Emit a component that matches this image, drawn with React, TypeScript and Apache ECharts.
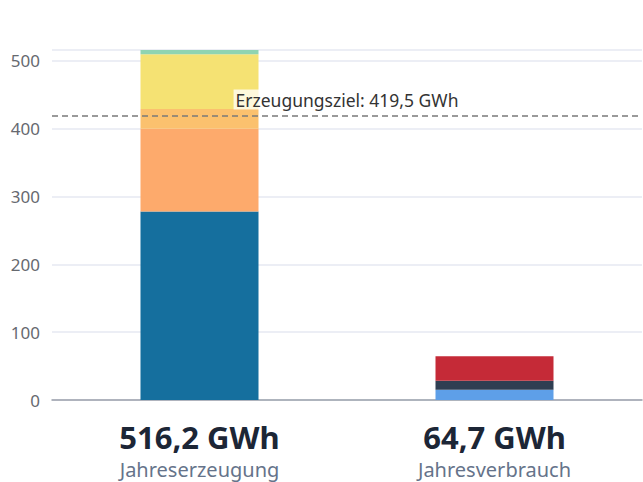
import React, { useEffect, useRef } from "react";
import * as echarts from "echarts";

const categories = ["Jahreserzeugung", "Jahresverbrauch"];
// generation segments (GWh), bottom to top
const genBlue = [278, 0];
const genOrange = [122, 0];
const genBlend = [29, 0];
const genYellow = [81, 0];
const genGreen = [6.2, 0];
// consumption segments (GWh), bottom to top
const conBlue = [0, 15.2];
const conNavy = [0, 13.2];
const conRed = [0, 36.3];
const target = 419.5;
const yTicks = [0, 100, 200, 300, 400, 500];

const fmt = (v: number) => v.toFixed(1).replace(".", ",");

export default function App() {
  const ref = useRef<HTMLDivElement>(null);
  useEffect(() => {
    if (!ref.current) return;
    const chart = echarts.init(ref.current, undefined, { renderer: "svg" });
    const totals = categories.map((_, i) =>
      [genBlue, genOrange, genBlend, genYellow, genGreen, conBlue, conNavy, conRed].reduce(
        (s, a) => s + a[i],
        0
      )
    );
    const maxVal = Math.max(...totals);
    const font = "Noto Sans";
    const seg = (name: string, data: number[], color: string, extra: any = {}) => ({
      type: "bar",
      name,
      stack: "total",
      data,
      barWidth: "40%",
      itemStyle: { color },
      ...extra,
    });
    chart.setOption({
      animation: false,
      textStyle: { fontFamily: font },
      grid: { left: 52, right: 1, top: 50, bottom: 82 },
      xAxis: {
        type: "category",
        data: categories,
        axisTick: { show: false },
        axisLine: { lineStyle: { color: "#9aa0aa", width: 1.5 } },
        axisLabel: {
          margin: 17,
          interval: 0,
          formatter: (val: string, idx: number) =>
            `{v|${fmt(totals[idx])} GWh}\n{n|${val}}`,
          rich: {
            v: {
              fontSize: 31,
              fontWeight: "bold",
              color: "#1c2636",
              fontFamily: font,
              lineHeight: 40,
            },
            n: {
              fontSize: 20,
              color: "#65738a",
              fontFamily: font,
              lineHeight: 24,
            },
          },
        },
      },
      yAxis: {
        type: "value",
        min: yTicks[0],
        max: maxVal,
        interval: yTicks[1] - yTicks[0],
        axisLabel: {
          color: "#66696f",
          fontSize: 17,
          margin: 12,
          showMaxLabel: false,
          fontFamily: font,
        },
        splitLine: { lineStyle: { color: "#e6e8f2", width: 1.5 } },
      },
      series: [
        seg("Gen A", genBlue, "#156f9e", {
          markLine: {
            symbol: "none",
            silent: true,
            lineStyle: { color: "#7a7a7a", type: [6, 4], width: 1.5 },
            label: {
              position: "insideMiddleTop",
              formatter: `Erzeugungsziel: ${fmt(target)} GWh`,
              color: "#333",
              fontSize: 17.5,
              fontFamily: font,
              backgroundColor: "rgba(255,255,255,0.75)",
              padding: [1, 2],
              distance: 6,
            },
            data: [{ yAxis: target }],
          },
        }),
        seg("Gen B", genOrange, "#fdaa6c"),
        seg("Gen C", genBlend, "#fbc16e"),
        seg("Gen D", genYellow, "#f5e273"),
        seg("Gen E", genGreen, "#8fd4b1"),
        seg("Con A", conBlue, "#5e9fe8"),
        seg("Con B", conNavy, "#2f3e52"),
        seg("Con C", conRed, "#c52a37"),
      ],
    });
    return () => chart.dispose();
  }, []);
  return <div ref={ref} style={{ width: 643, height: 482, position: "absolute", left: 0, top: 0 }} />;
}
